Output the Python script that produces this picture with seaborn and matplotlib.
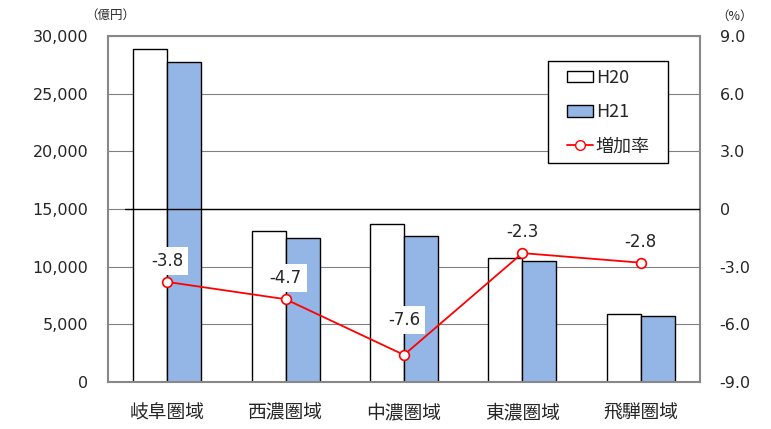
import numpy as np
import pandas as pd
import matplotlib
matplotlib.use("Agg")
import matplotlib.pyplot as plt
import seaborn as sns
from matplotlib.patches import Patch, Rectangle
from matplotlib.lines import Line2D
from matplotlib.ticker import FuncFormatter, MultipleLocator, FixedLocator

regions = ["岐阜圏域", "西濃圏域", "中濃圏域", "東濃圏域", "飛騨圏域"]
h20 = [28900, 13100, 13700, 10750, 5900]
h21 = [27750, 12490, 12660, 10490, 5720]
rate = [-3.8, -4.7, -7.6, -2.3, -2.8]
years = ["H20", "H21"]
rate_label = "増加率"

sns.set_theme(style="white")
plt.rcParams['font.family'] = ['Noto Sans CJK JP', 'DejaVu Sans']

df = pd.DataFrame({
    "region": regions * 2,
    "value": h20 + h21,
    "year": [years[0]] * len(regions) + [years[1]] * len(regions),
})

fig = plt.figure(figsize=(7.71, 4.29), dpi=100)
ax = fig.add_axes([0.140, 0.110, 0.768, 0.806])

c20 = "#FFFFFF"
c21 = "#93B6E6"
sns.barplot(data=df, x="region", y="value", hue="year", palette=[c20, c21],
            width=0.575, gap=0, ax=ax, legend=False, saturation=1)
for p in ax.patches:
    p.set_edgecolor("black")
    p.set_linewidth(1.0)

ax.set_ylim(0, 30000)
ax.set_xlim(-0.5, len(regions) - 0.5)
ax.yaxis.set_major_locator(MultipleLocator(5000))
ax.yaxis.set_major_formatter(FuncFormatter(lambda v, _: f"{int(v):,}"))
ax.set_xlabel("")
ax.set_ylabel("")
ax.grid(axis="y", color="#808080", linewidth=0.8)
ax.set_axisbelow(True)
ax.tick_params(axis="x", length=0, labelsize=13.5, pad=15)
ax.tick_params(axis="y", length=0, labelsize=11.5, pad=14)
for t in ax.get_yticklabels():
    t.set_fontfamily("DejaVu Sans")
ax.xaxis.set_minor_locator(FixedLocator(np.arange(0.5, len(regions) - 0.5, 1)))
ax.tick_params(axis="x", which="minor", length=5, direction="in", color="#808080", width=1)
for s in ax.spines.values():
    s.set_color("#888888")
    s.set_linewidth(1.5)

ax2 = ax.twinx()
xs = np.arange(len(regions))
ax2.axhline(0, xmin=0.029, xmax=1.0, color="black", linewidth=1.0, zorder=1)
sns.lineplot(x=xs, y=rate, ax=ax2, color="#FF0000", linewidth=1.3, marker="o",
             markersize=7, markerfacecolor="white", markeredgecolor="#FF0000",
             markeredgewidth=1.2, zorder=3)
ax2.set_ylim(-9, 9)
ax2.yaxis.set_major_locator(MultipleLocator(3))
ax2.yaxis.set_major_formatter(FuncFormatter(lambda v, _: "0" if abs(v) < 1e-9 else f"{v:.1f}"))
ax2.tick_params(axis="y", length=0, labelsize=11.5, pad=14)
for t in ax2.get_yticklabels():
    t.set_fontfamily("DejaVu Sans")
ax2.set_ylabel("")
ax2.grid(False)
for s in ax2.spines.values():
    s.set_visible(False)

offsets = {2: 35}
for i, r in enumerate(rate):
    ax2.annotate(f"{r:.1f}", (xs[i], r), xytext=(0, offsets.get(i, 21)),
                 textcoords="offset pixels", ha="center", va="center", fontsize=12,
                 family="DejaVu Sans", zorder=5,
                 bbox=dict(boxstyle="square,pad=0.3", facecolor="white", edgecolor="none"))

fig.text(110 / 771, 1 - 15 / 429, "（億円）", ha="center", va="center", fontsize=9)
fig.text(735 / 771, 1 - 16 / 429, "（%）", ha="center", va="center", fontsize=9)

handles = [
    Patch(facecolor=c20, edgecolor="black", linewidth=1.0),
    Patch(facecolor=c21, edgecolor="black", linewidth=1.0),
    Line2D([0], [0], color="#FF0000", linewidth=1.3, marker="o", markersize=7,
           markerfacecolor="white", markeredgecolor="#FF0000"),
]
box = Rectangle((0.743, 0.633), 0.203, 0.295, transform=ax.transAxes,
                facecolor="white", edgecolor="black", linewidth=1.0, zorder=9)
ax2.add_patch(box)
leg = ax2.legend(handles, years + [rate_label], loc="upper left",
                 bbox_to_anchor=(0.775, 0.905), fontsize=13, frameon=False,
                 labelspacing=0.9, handlelength=1.45, handleheight=0.6,
                 handletextpad=0.15, borderpad=0, borderaxespad=0)
leg.set_zorder(10)

fig.savefig("out.png", dpi=100)
